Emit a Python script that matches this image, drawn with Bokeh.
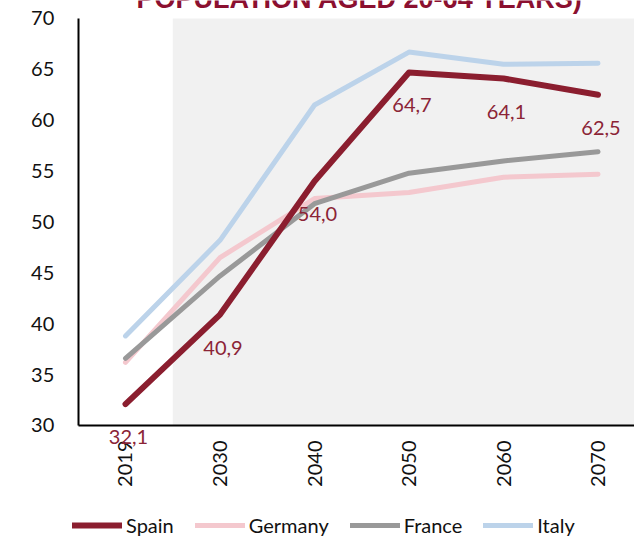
import math
from bokeh.plotting import figure
from bokeh.models import (Range1d, BoxAnnotation, LabelSet, Label, Legend, LegendItem,
                          ColumnDataSource, FixedTicker)
from bokeh.core.properties import value
from bokeh.embed import file_html
from bokeh.resources import INLINE

# ---- data ----
years = ["2019", "2030", "2040", "2050", "2060", "2070"]
spain = [32.1, 40.9, 54.0, 64.7, 64.1, 62.5]
germany = [36.2, 46.5, 52.3, 52.9, 54.4, 54.7]
france = [36.6, 44.7, 51.8, 54.8, 56.0, 56.9]
italy = [38.8, 48.2, 61.5, 66.7, 65.5, 65.6]
y_ticks = [30, 35, 40, 45, 50, 55, 60, 65, 70]
title_text = "POPULATION AGED 20-64 YEARS)"

xs = list(range(len(years)))

# the frame covers the whole canvas; axes are pinned at data locations
p = figure(width=634, height=538, output_backend="svg", toolbar_location=None,
           x_range=Range1d(-1.3228, 5.386), y_range=Range1d(18.894, 71.769),
           min_border_left=0, min_border_right=0, min_border_top=0, min_border_bottom=0)
p.outline_line_color = None
p.grid.visible = False
p.background_fill_color = "white"
p.border_fill_color = "white"

FONT = "Lato"
for ax in (p.xaxis[0], p.yaxis[0]):
    ax.axis_line_color = "black"
    ax.axis_line_width = 2
    ax.major_tick_line_color = None
    ax.minor_tick_line_color = None
    ax.major_label_text_font = FONT
    ax.major_label_text_font_size = "20px"
    ax.major_label_text_color = "#111111"

p.xaxis.fixed_location = 30
p.xaxis.bounds = (-0.5, 5.386)
p.xaxis.ticker = FixedTicker(ticks=xs)
p.xaxis.major_label_overrides = {i: y for i, y in zip(xs, years)}
p.xaxis.major_label_orientation = math.pi / 2
p.xaxis.major_label_standoff = 9

p.yaxis.fixed_location = -0.5
p.yaxis.bounds = (30, 70)
p.yaxis.ticker = FixedTicker(ticks=y_ticks)
p.yaxis.major_label_standoff = 18

# shaded projection area
p.add_layout(BoxAnnotation(left=0.5, bottom=30, top=70, fill_color="#f1f1f1", fill_alpha=1.0,
                           line_color=None, level="underlay"))

r_it = p.line(xs, italy, line_color="#bcd3ea", line_width=5, line_cap="round", line_join="round")
r_de = p.line(xs, germany, line_color="#f4c8ce", line_width=5, line_cap="round", line_join="round")
r_fr = p.line(xs, france, line_color="#999999", line_width=5, line_cap="round", line_join="round")
r_es = p.line(xs, spain, line_color="#8b1e2f", line_width=6, line_cap="round", line_join="round")

src = ColumnDataSource(dict(x=xs, y=spain, t=[f"{v:.1f}".replace(".", ",") for v in spain]))
p.add_layout(LabelSet(x="x", y="y", text="t", source=src, x_offset=3, y_offset=-33,
                      text_align="center", text_baseline="middle",
                      text_font=value(FONT), text_font_size=value("20px"),
                      text_color=value("#8b2436")))

# title, cropped at the top edge as in the reference
p.add_layout(Label(x=2.48, y=71.95, text=title_text, text_align="center",
                   text_baseline="alphabetic", text_font="Liberation Sans",
                   text_font_style="bold", text_font_size="27px", text_color="#8b1030"))

legend = Legend(items=[LegendItem(label="Spain", renderers=[r_es]),
                       LegendItem(label="Germany", renderers=[r_de]),
                       LegendItem(label="France", renderers=[r_fr]),
                       LegendItem(label="Italy", renderers=[r_it])],
                location=(72, 1), orientation="horizontal",
                glyph_width=50, glyph_height=20, label_standoff=4, spacing=21,
                padding=0, margin=0, border_line_alpha=0, background_fill_alpha=0,
                label_text_font=FONT, label_text_font_size="20px", label_text_color="#111111")
p.add_layout(legend)

open("out.html", "w").write(file_html(p, INLINE))
